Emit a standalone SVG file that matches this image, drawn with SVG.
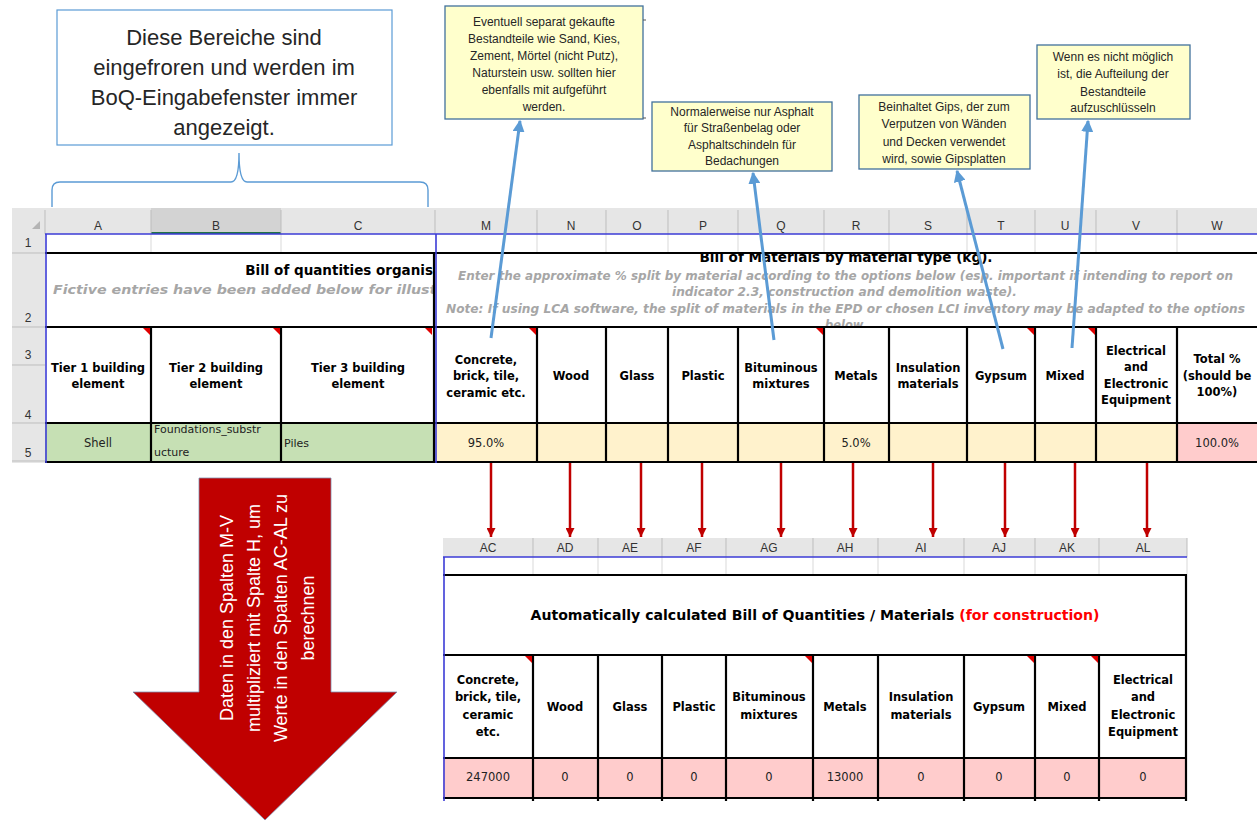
<svg xmlns="http://www.w3.org/2000/svg" width="1257" height="821" viewBox="0 0 1257 821">
<defs>
<style>
.col{font-family:"Liberation Sans",Arial,sans-serif;font-size:12px;fill:#333;text-anchor:middle}
.bh{font-family:"DejaVu Sans",Verdana,sans-serif;font-size:11.5px;font-weight:bold;fill:#000;text-anchor:middle}
.cv{font-family:"DejaVu Sans",Verdana,sans-serif;font-size:11px;fill:#222}
.cvm{font-family:"DejaVu Sans",Verdana,sans-serif;font-size:11.5px;fill:#222;text-anchor:middle}
.ttl{font-family:"DejaVu Sans",Verdana,sans-serif;font-size:13.5px;font-weight:bold;fill:#000}
.it{font-family:"DejaVu Sans",Verdana,sans-serif;font-size:11.5px;font-weight:bold;font-style:italic;fill:#a6a6a6}
.note{font-family:"Liberation Sans",Arial,sans-serif;font-size:12px;fill:#262626;text-anchor:middle}
.big{font-family:"Liberation Sans",Arial,sans-serif;font-size:22px;fill:#262626;text-anchor:middle}
.arrt{font-family:"Liberation Sans",Arial,sans-serif;font-size:18px;fill:#fff;text-anchor:middle}
.hdrbg{fill:#e6e6e6}
.grid{stroke:#d9d9d9;stroke-width:1}
.hsep{stroke:#bdbdbd;stroke-width:1}
.thick{stroke:#000;stroke-width:2.2;fill:none}
.blue{stroke:#3b3bd6;stroke-width:1.6}
.corner{fill:#e00000}
.callout{fill:#ffffcc;stroke:#41719c;stroke-width:1.3}
.lead{stroke:#5b9bd5;stroke-width:3;fill:none}
.red{stroke:#c00000;stroke-width:2.5;fill:none}
</style>
<marker id="blueHead" viewBox="0 0 10 10" refX="9" refY="5" markerWidth="4" markerHeight="4" orient="auto" markerUnits="strokeWidth">
<path d="M0,0 L10,5 L0,10 z" fill="#5b9bd5"/>
</marker>
<marker id="redHead" viewBox="0 0 10 10" refX="10" refY="5" markerWidth="4" markerHeight="3.6" orient="auto" markerUnits="strokeWidth">
<path d="M0,0 L10,5 L0,10 z" fill="#c00000"/>
</marker>
<clipPath id="clipL"><rect x="45" y="254" width="389" height="72"/></clipPath>
<clipPath id="clipR"><rect x="437" y="254" width="820" height="72"/></clipPath>
</defs>

<rect width="1257" height="821" fill="#fff"/>

<!-- Top spreadsheet -->
<g id="sheet-top">
<rect class="hdrbg" x="12" y="208" width="1245" height="26"/>
<rect x="151" y="208" width="130" height="26" fill="#d3d3d3"/>
<line x1="151" y1="233" x2="281" y2="233" stroke="#217346" stroke-width="2"/>
<rect class="hdrbg" x="12" y="234" width="33" height="229"/>
<polygon points="40,221 40,229 32,229" fill="#b4b4b4"/>
<g class="hsep">
<line x1="45" y1="210" x2="45" y2="234"/><line x1="151" y1="210" x2="151" y2="234"/><line x1="281" y1="210" x2="281" y2="234"/>
<line x1="435" y1="210" x2="435" y2="234"/><line x1="537" y1="210" x2="537" y2="234"/><line x1="606" y1="210" x2="606" y2="234"/>
<line x1="668" y1="210" x2="668" y2="234"/><line x1="738" y1="210" x2="738" y2="234"/><line x1="824" y1="210" x2="824" y2="234"/>
<line x1="889" y1="210" x2="889" y2="234"/><line x1="967" y1="210" x2="967" y2="234"/><line x1="1035" y1="210" x2="1035" y2="234"/>
<line x1="1096" y1="210" x2="1096" y2="234"/><line x1="1177" y1="210" x2="1177" y2="234"/>
<line x1="12" y1="253" x2="45" y2="253"/><line x1="12" y1="327" x2="45" y2="327"/><line x1="12" y1="365" x2="45" y2="365"/>
<line x1="12" y1="423" x2="45" y2="423"/><line x1="12" y1="461" x2="45" y2="461"/>
</g>
<text class="col" x="98" y="230">A</text><text class="col" x="216" y="230">B</text><text class="col" x="358" y="230">C</text>
<text class="col" x="486" y="230">M</text><text class="col" x="571" y="230">N</text><text class="col" x="637" y="230">O</text>
<text class="col" x="703" y="230">P</text><text class="col" x="781" y="230">Q</text><text class="col" x="856" y="230">R</text>
<text class="col" x="928" y="230">S</text><text class="col" x="1001" y="230">T</text><text class="col" x="1065" y="230">U</text>
<text class="col" x="1136" y="230">V</text><text class="col" x="1217" y="230">W</text>
<text class="col" x="28" y="247">1</text><text class="col" x="28" y="322">2</text><text class="col" x="28" y="359">3</text>
<text class="col" x="28" y="419">4</text><text class="col" x="28" y="457">5</text>

<g class="grid">
<line x1="151" y1="234" x2="151" y2="253"/><line x1="281" y1="234" x2="281" y2="253"/><line x1="537" y1="234" x2="537" y2="253"/>
<line x1="606" y1="234" x2="606" y2="253"/><line x1="668" y1="234" x2="668" y2="253"/><line x1="738" y1="234" x2="738" y2="253"/>
<line x1="824" y1="234" x2="824" y2="253"/><line x1="889" y1="234" x2="889" y2="253"/><line x1="967" y1="234" x2="967" y2="253"/>
<line x1="1035" y1="234" x2="1035" y2="253"/><line x1="1096" y1="234" x2="1096" y2="253"/><line x1="1177" y1="234" x2="1177" y2="253"/>
</g>

<rect x="45" y="423" width="390" height="38" fill="#c6e0b4"/>
<rect x="435" y="423" width="742" height="38" fill="#fff2cc"/>
<rect x="1177" y="423" width="80" height="38" fill="#ffcccc"/>

<g clip-path="url(#clipL)">
<text class="ttl" x="433" y="275" text-anchor="end">Bill of quantities organis</text>
<text class="it" x="53" y="294" textLength="400" lengthAdjust="spacingAndGlyphs">Fictive entries have been added below for illustra</text>
</g>
<g clip-path="url(#clipR)">
<text class="ttl" x="846" y="262" text-anchor="middle" textLength="293" lengthAdjust="spacingAndGlyphs">Bill of Materials by material type (kg).</text>
<text class="it" x="458" y="280" textLength="775" lengthAdjust="spacingAndGlyphs">Enter the approximate % split by material according to the options below (esp. important if intending to report on</text>
<text class="it" x="672" y="296" textLength="345" lengthAdjust="spacingAndGlyphs">indicator 2.3, construction and demolition waste).</text>
<text class="it" x="446" y="313" textLength="799" lengthAdjust="spacingAndGlyphs">Note: If using LCA software, the split of materials in the EPD or chosen LCI inventory may be adapted to the options</text>
<text class="it" x="846" y="329" text-anchor="middle">below.</text>
</g>

<text class="bh" x="98" y="372">Tier 1 building</text><text class="bh" x="98" y="388">element</text>
<text class="bh" x="216" y="372">Tier 2 building</text><text class="bh" x="216" y="388">element</text>
<text class="bh" x="358" y="372">Tier 3 building</text><text class="bh" x="358" y="388">element</text>
<text class="bh" x="486" y="364">Concrete,</text><text class="bh" x="486" y="380">brick, tile,</text><text class="bh" x="486" y="397">ceramic etc.</text>
<text class="bh" x="571" y="380">Wood</text>
<text class="bh" x="637" y="380">Glass</text>
<text class="bh" x="703" y="380">Plastic</text>
<text class="bh" x="781" y="372">Bituminous</text><text class="bh" x="781" y="388">mixtures</text>
<text class="bh" x="856" y="380">Metals</text>
<text class="bh" x="928" y="372">Insulation</text><text class="bh" x="928" y="388">materials</text>
<text class="bh" x="1001" y="380">Gypsum</text>
<text class="bh" x="1065" y="380">Mixed</text>
<text class="bh" x="1136" y="355">Electrical</text><text class="bh" x="1136" y="371">and</text><text class="bh" x="1136" y="388">Electronic</text><text class="bh" x="1136" y="404">Equipment</text>
<text class="bh" x="1217" y="363">Total %</text><text class="bh" x="1217" y="380">(should be</text><text class="bh" x="1217" y="396">100%)</text>

<text class="cvm" x="98" y="447">Shell</text>
<text class="cv" x="154" y="433">Foundations_substr</text><text class="cv" x="154" y="456">ucture</text>
<text class="cv" x="284" y="447">Piles</text>
<text class="cvm" x="486" y="447">95.0%</text>
<text class="cvm" x="856" y="447">5.0%</text>
<text class="cvm" x="1217" y="447">100.0%</text>

<g class="thick">
<line x1="45" y1="253" x2="1257" y2="253"/>
<line x1="45" y1="327" x2="1257" y2="327"/>
<line x1="45" y1="423" x2="1257" y2="423"/>
<line x1="45" y1="462" x2="1257" y2="462"/>
<line x1="151" y1="327" x2="151" y2="463"/><line x1="281" y1="327" x2="281" y2="463"/><line x1="434" y1="253" x2="434" y2="463"/>
<line x1="537" y1="327" x2="537" y2="463"/><line x1="606" y1="327" x2="606" y2="463"/><line x1="668" y1="327" x2="668" y2="463"/>
<line x1="738" y1="327" x2="738" y2="463"/><line x1="824" y1="327" x2="824" y2="463"/><line x1="889" y1="327" x2="889" y2="463"/>
<line x1="967" y1="327" x2="967" y2="463"/><line x1="1035" y1="327" x2="1035" y2="463"/><line x1="1096" y1="327" x2="1096" y2="463"/>
<line x1="1177" y1="327" x2="1177" y2="463"/>
</g>
<g class="blue">
<line x1="45" y1="234" x2="1257" y2="234"/>
<line x1="46" y1="234" x2="46" y2="463"/>
<line x1="436" y1="234" x2="436" y2="463"/>
</g>
<polygon class="corner" points="143,328 150,328 150,335"/>
<polygon class="corner" points="273,328 280,328 280,335"/>
<polygon class="corner" points="425,328 432,328 432,335"/>
<polygon class="corner" points="529,328 536,328 536,335"/>
<polygon class="corner" points="816,328 823,328 823,335"/>
<polygon class="corner" points="1027,328 1034,328 1034,335"/>
<polygon class="corner" points="1088,328 1095,328 1095,335"/>
</g>

<!-- Bottom spreadsheet -->
<g id="sheet-bottom">
<rect class="hdrbg" x="443" y="538" width="744" height="19"/>
<g class="hsep">
<line x1="533" y1="538" x2="533" y2="557"/><line x1="598" y1="538" x2="598" y2="557"/><line x1="662" y1="538" x2="662" y2="557"/>
<line x1="726" y1="538" x2="726" y2="557"/><line x1="813" y1="538" x2="813" y2="557"/><line x1="878" y1="538" x2="878" y2="557"/>
<line x1="964" y1="538" x2="964" y2="557"/><line x1="1035" y1="538" x2="1035" y2="557"/><line x1="1099" y1="538" x2="1099" y2="557"/>
<line x1="1187" y1="538" x2="1187" y2="557"/>
</g>
<text class="col" x="488" y="552">AC</text><text class="col" x="565" y="552">AD</text><text class="col" x="630" y="552">AE</text>
<text class="col" x="694" y="552">AF</text><text class="col" x="769" y="552">AG</text><text class="col" x="845" y="552">AH</text>
<text class="col" x="921" y="552">AI</text><text class="col" x="999" y="552">AJ</text><text class="col" x="1067" y="552">AK</text>
<text class="col" x="1143" y="552">AL</text>
<g class="grid">
<line x1="533" y1="557" x2="533" y2="575"/><line x1="598" y1="557" x2="598" y2="575"/><line x1="662" y1="557" x2="662" y2="575"/>
<line x1="726" y1="557" x2="726" y2="575"/><line x1="813" y1="557" x2="813" y2="575"/><line x1="878" y1="557" x2="878" y2="575"/>
<line x1="964" y1="557" x2="964" y2="575"/><line x1="1035" y1="557" x2="1035" y2="575"/><line x1="1099" y1="557" x2="1099" y2="575"/>
<line x1="1187" y1="557" x2="1187" y2="575"/>
</g>
<rect x="443" y="758" width="743" height="40" fill="#ffcccc"/>
<text class="ttl" x="815" y="620" text-anchor="middle" textLength="569" lengthAdjust="spacingAndGlyphs">Automatically calculated Bill of Quantities / Materials <tspan fill="#ff0000">(for construction)</tspan></text>

<text class="bh" x="488" y="684">Concrete,</text><text class="bh" x="488" y="701">brick, tile,</text><text class="bh" x="488" y="719">ceramic</text><text class="bh" x="488" y="736">etc.</text>
<text class="bh" x="565" y="711">Wood</text>
<text class="bh" x="630" y="711">Glass</text>
<text class="bh" x="694" y="711">Plastic</text>
<text class="bh" x="769" y="701">Bituminous</text><text class="bh" x="769" y="719">mixtures</text>
<text class="bh" x="845" y="711">Metals</text>
<text class="bh" x="921" y="701">Insulation</text><text class="bh" x="921" y="719">materials</text>
<text class="bh" x="999" y="711">Gypsum</text>
<text class="bh" x="1067" y="711">Mixed</text>
<text class="bh" x="1143" y="684">Electrical</text><text class="bh" x="1143" y="701">and</text><text class="bh" x="1143" y="719">Electronic</text><text class="bh" x="1143" y="736">Equipment</text>

<text class="cvm" x="488" y="781">247000</text><text class="cvm" x="565" y="781">0</text><text class="cvm" x="630" y="781">0</text>
<text class="cvm" x="694" y="781">0</text><text class="cvm" x="769" y="781">0</text><text class="cvm" x="845" y="781">13000</text>
<text class="cvm" x="921" y="781">0</text><text class="cvm" x="999" y="781">0</text><text class="cvm" x="1067" y="781">0</text>
<text class="cvm" x="1143" y="781">0</text>

<g class="thick">
<line x1="443" y1="575" x2="1187" y2="575"/>
<line x1="443" y1="655" x2="1187" y2="655"/>
<line x1="443" y1="758" x2="1187" y2="758"/>
<line x1="443" y1="798" x2="1187" y2="798"/>
<line x1="1186" y1="575" x2="1186" y2="801"/>
<line x1="533" y1="655" x2="533" y2="801"/><line x1="598" y1="655" x2="598" y2="801"/><line x1="662" y1="655" x2="662" y2="801"/>
<line x1="726" y1="655" x2="726" y2="801"/><line x1="813" y1="655" x2="813" y2="801"/><line x1="878" y1="655" x2="878" y2="801"/>
<line x1="964" y1="655" x2="964" y2="801"/><line x1="1035" y1="655" x2="1035" y2="801"/><line x1="1099" y1="655" x2="1099" y2="801"/>
</g>
<g class="blue">
<line x1="443" y1="557" x2="1187" y2="557"/>
<line x1="444" y1="557" x2="444" y2="801"/>
</g>
<polygon class="corner" points="525,656 532,656 532,663"/>
<polygon class="corner" points="805,656 812,656 812,663"/>
<polygon class="corner" points="1027,656 1034,656 1034,663"/>
<polygon class="corner" points="1091,656 1098,656 1098,663"/>
</g>

<!-- Callouts -->
<g id="callout-frozen">
<rect x="57" y="10" width="335" height="135" fill="#fff" stroke="#5b9bd5" stroke-width="1.2"/>
<text class="big" x="224" y="45">Diese Bereiche sind</text>
<text class="big" x="224" y="75">eingefroren und werden im</text>
<text class="big" x="224" y="105">BoQ-Eingabefenster immer</text>
<text class="big" x="224" y="135">angezeigt.</text>
<path d="M52,207 L52,190 Q52,182 60,182 L231,182 Q239,182 239,153 Q239,182 247,182 L420,182 Q428,182 428,190 L428,207" fill="none" stroke="#5b9bd5" stroke-width="1.4"/>
</g>

<g id="callout-concrete">
<rect class="callout" x="445" y="6" width="198" height="113"/>
<line x1="643" y1="20" x2="646" y2="20" stroke="#555" stroke-width="1"/>
<line x1="643" y1="118" x2="646" y2="118" stroke="#555" stroke-width="1"/>
<text class="note" x="544" y="26">Eventuell separat gekaufte</text>
<text class="note" x="544" y="43">Bestandteile wie Sand, Kies,</text>
<text class="note" x="544" y="60">Zement, Mörtel (nicht Putz),</text>
<text class="note" x="544" y="77">Naturstein usw. sollten hier</text>
<text class="note" x="544" y="94">ebenfalls mit aufgeführt</text>
<text class="note" x="544" y="111">werden.</text>
</g>

<g id="callout-bitumen">
<rect class="callout" x="652" y="102" width="180" height="69"/>
<text class="note" x="742" y="116">Normalerweise nur Asphalt</text>
<text class="note" x="742" y="132">für Straßenbelag oder</text>
<text class="note" x="742" y="149">Asphaltschindeln für</text>
<text class="note" x="742" y="165">Bedachungen</text>
</g>

<g id="callout-gypsum">
<rect class="callout" x="859" y="95" width="171" height="74"/>
<text class="note" x="944" y="111">Beinhaltet Gips, der zum</text>
<text class="note" x="944" y="128">Verputzen von Wänden</text>
<text class="note" x="944" y="146">und Decken verwendet</text>
<text class="note" x="944" y="163">wird, sowie Gipsplatten</text>
</g>

<g id="callout-mixed">
<rect class="callout" x="1037" y="45" width="153" height="74"/>
<text class="note" x="1113" y="61">Wenn es nicht möglich</text>
<text class="note" x="1113" y="78">ist, die Aufteilung der</text>
<text class="note" x="1113" y="96">Bestandteile</text>
<text class="note" x="1113" y="112">aufzuschlüsseln</text>
</g>

<g id="big-arrow">
<polygon points="199,478 331,478 331,692 397,692 265,820 133,692 199,692" fill="#c00000" stroke="#7f8fb0" stroke-width="0.8"/>
<g transform="translate(265,618) rotate(-90)">
<text class="arrt" x="0" y="-32">Daten in den Spalten M-V</text>
<text class="arrt" x="0" y="-5">multipliziert mit Spalte H, um</text>
<text class="arrt" x="0" y="22">Werte in den Spalten AC-AL zu</text>
<text class="arrt" x="0" y="49">berechnen</text>
</g>
</g>

<!-- Connectors -->
<g id="connectors">
<line class="lead" x1="491" y1="338" x2="520" y2="121" marker-end="url(#blueHead)"/>
<line class="lead" x1="774" y1="340" x2="753" y2="173" marker-end="url(#blueHead)"/>
<line class="lead" x1="1003" y1="349" x2="957" y2="171" marker-end="url(#blueHead)"/>
<line class="lead" x1="1072" y1="348" x2="1088" y2="121" marker-end="url(#blueHead)"/>
<line class="red" x1="491" y1="463" x2="491" y2="537" marker-end="url(#redHead)"/>
<line class="red" x1="570" y1="463" x2="570" y2="537" marker-end="url(#redHead)"/>
<line class="red" x1="641" y1="463" x2="641" y2="537" marker-end="url(#redHead)"/>
<line class="red" x1="702" y1="463" x2="702" y2="537" marker-end="url(#redHead)"/>
<line class="red" x1="781" y1="463" x2="781" y2="537" marker-end="url(#redHead)"/>
<line class="red" x1="853" y1="463" x2="853" y2="537" marker-end="url(#redHead)"/>
<line class="red" x1="933" y1="463" x2="933" y2="537" marker-end="url(#redHead)"/>
<line class="red" x1="1005" y1="463" x2="1005" y2="537" marker-end="url(#redHead)"/>
<line class="red" x1="1075" y1="463" x2="1075" y2="537" marker-end="url(#redHead)"/>
<line class="red" x1="1147" y1="463" x2="1147" y2="537" marker-end="url(#redHead)"/>
</g>
</svg>
